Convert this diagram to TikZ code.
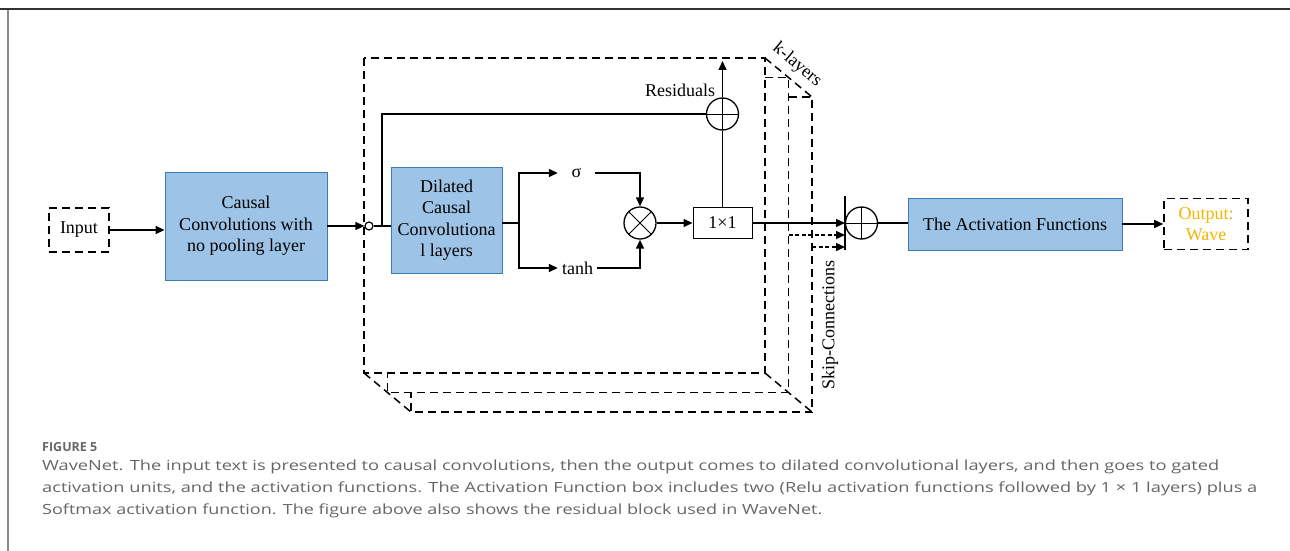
\documentclass[tikz,border=0pt]{standalone}
\usepackage{fontspec}
\setmainfont{Liberation Serif}
\newfontfamily\capfont{Open Sans}
\usetikzlibrary{arrows.meta}
\definecolor{boxfill}{HTML}{9DC3E6}
\definecolor{boxedge}{HTML}{3D7AB8}
\definecolor{outgold}{HTML}{F4B400}
\definecolor{capgray}{HTML}{666666}
\definecolor{rulegray}{HTML}{8A8A8A}
% one caption line, stretched to the width it takes in the layout
\newcommand\capline[2]{\resizebox{#1pt}{\height}{#2}}
\begin{document}
\begin{tikzpicture}[x=1pt,y=-1pt,
  font=\fontsize{18}{21.5}\selectfont,
  tip/.style={-{Triangle[length=9pt,width=8pt]}},
  conn/.style={line width=1.4pt},
  arr/.style={conn,tip},
  skiparr/.style={line width=1.4pt,dash pattern=on 4pt off 2.5pt,tip},
  blue block/.style={draw=boxedge,line width=0.9pt,fill=boxfill,align=center,inner sep=2pt},
  dashbox/.style={draw,line width=1.6pt,dash pattern=on 8pt off 5pt,align=center,inner sep=2pt},
  layerframe/.style={line width=1.5pt,dash pattern=on 8pt off 5pt},
  opcircle/.style={draw,circle,line width=1.3pt,minimum size=32pt,inner sep=0pt},
  plusop/.style={opcircle,path picture={
      \draw[line width=1pt] (path picture bounding box.north) -- (path picture bounding box.south)
        (path picture bounding box.west) -- (path picture bounding box.east);}},
  timesop/.style={opcircle,path picture={
      \draw[line width=1pt] (path picture bounding box.north west) -- (path picture bounding box.south east)
        (path picture bounding box.south west) -- (path picture bounding box.north east);}},
  gatelabel/.style={inner sep=0pt,minimum height=20pt},
  captext/.style={anchor=west,inner sep=0pt,text=capgray,font=\capfont\fontsize{14}{16}\selectfont},
]
\useasboundingbox (0,0) rectangle (1290,551);

% page rules
\draw[rulegray,line width=2pt] (7.5,9) -- (7.5,551);
\draw[black!80,line width=2pt] (0,9) -- (1290,9);

% stacked residual layers (k copies)
\draw[layerframe] (364,58) rectangle (765,373);
\draw[layerframe] (765,77.5) -- (788.5,77.5) -- (788.5,392.5) -- (387.5,392.5) -- (387.5,373);
\draw[layerframe] (788.5,97) -- (812,97) -- (812,412) -- (411,412) -- (411,392.5);
\draw[layerframe] (765,58) -- (788.5,77.5) -- (812,97);
\draw[layerframe] (364,373) -- (387.5,392.5) -- (411,412);
\draw[layerframe] (765,373) -- (788.5,392.5) -- (812,412);
\node[rotate=-40] (klayers) at (797,65) {k-layers};
\node[rotate=90] (skiplabel) at (830,325) {Skip-Connections};

% blocks
\node[dashbox,minimum width=60pt,minimum height=44pt] (input) at (79,230) {Input};
\node[blue block,minimum width=162pt,minimum height=108pt] (causal) at (246,226)
  {Causal\\Convolutions with\\no pooling layer};
\node[draw,circle,line width=1.2pt,fill=white,minimum size=8pt,inner sep=0pt] (tap) at (369,226) {};
\node[blue block,minimum width=111pt,minimum height=106pt] (dil) at (446.5,220)
  {Dilated\\Causal\\Convolutiona\\l layers};
\node[gatelabel,minimum width=37pt] (sig) at (576.5,173) {σ};
\node[gatelabel,minimum width=39pt] (tanh) at (577.5,268) {tanh};
\node[timesop] (mul) at (640,223) {};
\node[draw,line width=1pt,minimum width=59pt,minimum height=31pt,inner sep=0pt] (conv) at (722.5,223) {1×1};
\node[plusop] (res) at (722.5,114) {};
\node[inner sep=0pt] (reslabel) at (680,90) {Residuals};
\node[plusop] (sum) at (861.5,223) {};
\node[blue block,minimum width=214pt,minimum height=52pt] (act) at (1015,224) {The Activation Functions};
\node[dashbox,text=outgold,minimum width=84pt,minimum height=51pt] (out) at (1206,224)
  {Output:\\Wave};

% helper points
\coordinate (rs) at (382,226);
\coordinate (br) at (519,223);
\coordinate (resout) at (722.5,61);
\coordinate (bartop) at (845,196);
\coordinate (barbot) at (845,250);
\coordinate (s2) at (788.5,235);
\coordinate (s3) at (812,247);

% connectors
\draw[arr] (input.east |- 0,230) -- (causal.west |- 0,230);
\draw[arr] (causal.east) -- (tap.west);
\draw[conn] (tap.east) -- (dil.west |- tap.east);
\draw[conn] (rs) |- (res.west);
\draw[arr] (res.north) -- (resout);
\draw[conn] (dil.east |- br) -- (br);
\draw[arr] (br) |- (sig.west);
\draw[arr] (br) |- (tanh.west);
\draw[arr] (sig.east) -| (mul.north);
\draw[arr] (tanh.east) -| (mul.south);
\draw[arr] (mul.east) -- (conv.west);
\draw[conn] (conv.north) -- (res.south);
\draw[conn] (bartop) -- (barbot);
\draw[arr] (conv.east) -- (conv.east -| bartop);
\draw[skiparr] (s2) -- (s2 -| bartop);
\draw[skiparr] (s3) -- (s3 -| bartop);
\draw[conn] (sum.east) -- (sum.east -| act.west);
\draw[arr] (act.east) -- (act.east -| out.west);

% caption
\node[anchor=west,inner sep=0pt,text=capgray,font=\capfont\bfseries\fontsize{12.5}{14}\selectfont] (fig) at (42,447) {FIGURE 5};
\node[captext] (c1) at (42,467) {\capline{1177}{WaveNet. The input text is presented to causal convolutions, then the output comes to dilated convolutional layers, and then goes to gated}};
\node[captext] (c2) at (42,489) {\capline{1215}{activation units, and the activation functions. The Activation Function box includes two (Relu activation functions followed by 1 × 1 layers) plus a}};
\node[captext] (c3) at (42,511) {\capline{780}{Softmax activation function. The figure above also shows the residual block used in WaveNet.}};
\end{tikzpicture}
\end{document}
